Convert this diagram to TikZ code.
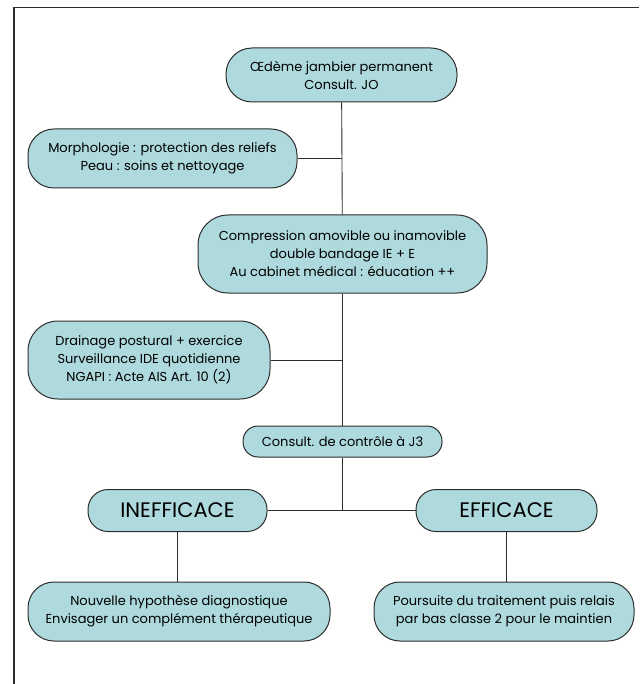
\documentclass[tikz,border=0pt]{standalone}
\usepackage{fontspec}
\setmainfont{Poppins}
\usepackage{tikz}
\definecolor{bleuclair}{RGB}{174,218,222}
\definecolor{trait}{RGB}{45,45,45}
\tikzset{
	etape/.style={draw=trait, line width=1pt, fill=bleuclair, rounded corners=26pt, align=center, inner sep=1pt, font=\fontsize{13}{18}\selectfont},
	lien/.style={draw=trait, line width=0.9pt}
}

\begin{document}
\begin{tikzpicture}[x=1pt, y=-1pt]
			\useasboundingbox (0,0) rectangle (639,684);
			
			% Draw the frame
			\draw[trait, line width=1.2pt] (14,684) -- (14,7.5) -- (639,7.5);
			
			% Place the boxes
			\node[etape, minimum width=231pt, minimum height=54pt] (oedeme) at (341.5,75) {Œdème jambier permanent\\Consult. JO};
			\node[etape, minimum width=269pt, minimum height=59pt] (morpho) at (162.5,158.5) {Morphologie : protection des reliefs\\Peau : soins et nettoyage};
			\node[etape, rounded corners=30pt, minimum width=289pt, minimum height=78pt] (compression) at (342.5,254) {Compression amovible ou inamovible\\double bandage IE + E\\Au cabinet médical : éducation ++};
			\node[etape, rounded corners=30pt, minimum width=242pt, minimum height=78pt] (drainage) at (149,360) {Drainage postural + exercice\\Surveillance IDE quotidienne\\NGAPI : Acte AIS Art. 10 (2)};
			\node[etape, rounded corners=15pt, minimum width=199pt, minimum height=31pt] (controle) at (342.5,441.5) {Consult. de contrôle à J3};
			\node[etape, rounded corners=20pt, font=\fontsize{21}{24}\selectfont, minimum width=179pt, minimum height=42pt] (inefficace) at (177.5,510.5) {INEFFICACE};
			\node[etape, rounded corners=20pt, font=\fontsize{21}{24}\selectfont, minimum width=181pt, minimum height=42pt] (efficace) at (506.5,510.5) {EFFICACE};
			\node[etape, minimum width=302pt, minimum height=59pt] (nouvelle) at (179,611.5) {Nouvelle hypothèse diagnostique\\Envisager un complément thérapeutique};
			\node[etape, minimum width=260pt, minimum height=59pt] (poursuite) at (504,611.5) {Poursuite du traitement puis relais\\par bas classe 2 pour le maintien};
			
			% Draw the main line
			\draw[lien] (oedeme) -- (compression);
			\draw[lien] (compression) -- (controle);
			\coordinate (fourche) at (controle.south |- inefficace.east);
			\draw[lien] (controle) -- (fourche);
			
			% Side branches
			\draw[lien] (morpho.east) -- (morpho.east -| oedeme.south);
			\draw[lien] (drainage.east) -- (drainage.east -| oedeme.south);
			\draw[lien] (inefficace.east) -- (efficace.west);
			\draw[lien] (inefficace.south) -- (inefficace.south |- nouvelle.north);
			\draw[lien] (efficace.south) -- (efficace.south |- poursuite.north);
		\end{tikzpicture}
\end{document}
